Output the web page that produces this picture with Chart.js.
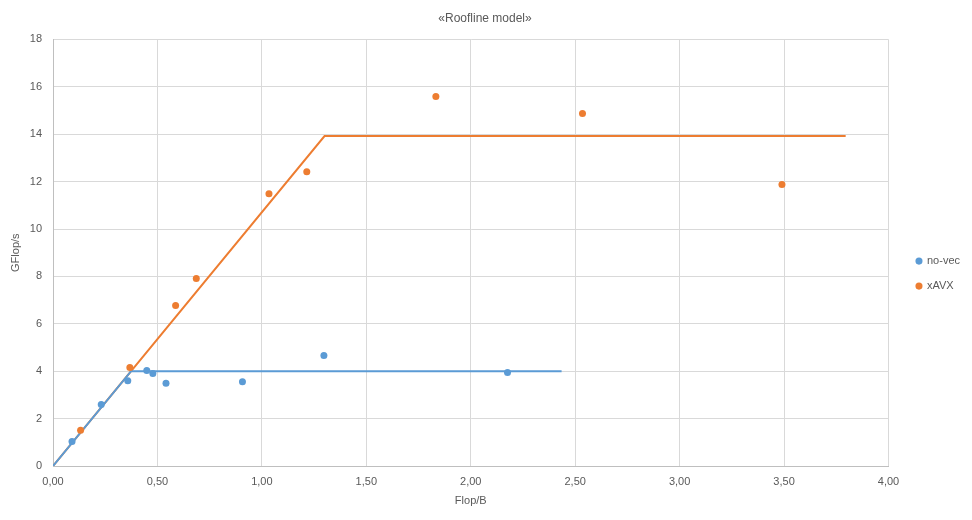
<!DOCTYPE html>
<html>
<head>
<meta charset="utf-8">
<script src="https://cdn.jsdelivr.net/npm/chart.js@4"></script>
<style>
  html, body { margin: 0; padding: 0; background: #fff; }
  #wrap { width: 972px; height: 520px; }
</style>
</head>
<body>
<div id="wrap"><canvas id="chart"></canvas></div>
<script>
// measured points (Flop/B, GFlop/s)
const noVecX = [0.091, 0.231, 0.358, 0.449, 0.478, 0.541, 0.907, 1.297, 2.176];
const noVecY = [1.03, 2.59, 3.60, 4.03, 3.90, 3.49, 3.56, 4.66, 3.95];
const xavxX = [0.132, 0.368, 0.587, 0.686, 1.034, 1.215, 1.833, 2.535, 3.49];
const xavxY = [1.51, 4.16, 6.77, 7.91, 11.49, 12.42, 15.59, 14.87, 11.88];

// roofline segments
const noVecRoofX = [0, 0.374, 2.435];
const noVecRoofY = [0, 4.0, 4.0];
const xavxRoofX = [0, 1.30, 3.795];
const xavxRoofY = [0, 13.92, 13.92];

const BLUE = "#5B9BD5";
const ORANGE = "#ED7D31";
const FONT = "'Liberation Sans', Arial, sans-serif";
const LEGEND_GAP = 14; // extra space between plot and legend

function pts(xs, ys) {
  return xs.map((x, i) => ({ x: x, y: ys[i] }));
}

// widen the legend box on its left side without moving the items
const legendGap = {
  id: "legendGap",
  beforeLayout(chart) {
    const lg = chart.legend;
    if (lg && !lg._gapPatched) {
      const fit = lg.fit;
      lg.fit = function () {
        fit.call(this);
        this.width += LEGEND_GAP;
      };
      lg._gapPatched = true;
    }
  },
  afterLayout(chart) {
    if (chart.legend) chart.legend.left += LEGEND_GAP;
  },
};

const ctx = document.getElementById("chart").getContext("2d");
new Chart(ctx, {
  type: "scatter",
  data: {
    datasets: [
      {
        label: "no-vec",
        data: pts(noVecX, noVecY),
        backgroundColor: BLUE,
        borderColor: BLUE,
        pointRadius: 3.5,
        pointBorderWidth: 0,
        pointStyle: "circle",
      },
      {
        label: "xAVX",
        data: pts(xavxX, xavxY),
        backgroundColor: ORANGE,
        borderColor: ORANGE,
        pointRadius: 3.5,
        pointBorderWidth: 0,
        pointStyle: "circle",
      },
      {
        label: "no-vec roof",
        data: pts(noVecRoofX, noVecRoofY),
        showLine: true,
        borderColor: BLUE,
        borderWidth: 2,
        pointRadius: 0,
        fill: false,
      },
      {
        label: "xAVX roof",
        data: pts(xavxRoofX, xavxRoofY),
        showLine: true,
        borderColor: ORANGE,
        borderWidth: 2,
        pointRadius: 0,
        fill: false,
      },
    ],
  },
  plugins: [legendGap],
  options: {
    responsive: true,
    maintainAspectRatio: false,
    animation: false,
    layout: { padding: { left: 0, right: 2, top: 4, bottom: 0 } },
    plugins: {
      title: {
        display: true,
        text: "«Roofline model»",
        color: "#595959",
        font: { family: FONT, size: 12, weight: "normal" },
        padding: { top: 7, bottom: 14 },
      },
      legend: {
        position: "right",
        title: {
          display: true,
          text: " ",
          font: { size: 11 },
          padding: { top: 10, bottom: 0 },
        },
        labels: {
          filter: (item) => item.datasetIndex < 2,
          usePointStyle: true,
          pointStyle: "circle",
          boxWidth: 5,
          boxHeight: 5,
          padding: 14,
          color: "#595959",
          font: { family: FONT, size: 11 },
        },
      },
      tooltip: { enabled: false },
    },
    scales: {
      x: {
        type: "linear",
        min: 0,
        max: 4,
        afterFit: (scale) => { scale.height = 54; },
        ticks: {
          stepSize: 0.5,
          padding: 9,
          color: "#595959",
          font: { family: FONT, size: 11 },
          callback: (v) => v.toFixed(2).replace(".", ","),
        },
        grid: { color: "#d9d9d9", drawTicks: false },
        border: { color: "#bfbfbf" },
        title: {
          display: true,
          text: "Flop/B",
          color: "#595959",
          font: { family: FONT, size: 11 },
          padding: { top: 4, bottom: 12 },
        },
      },
      y: {
        min: 0,
        max: 18,
        afterFit: (scale) => { scale.width = 53; },
        ticks: {
          stepSize: 2,
          color: "#595959",
          font: { family: FONT, size: 11 },
          padding: 11,
        },
        grid: { color: "#d9d9d9", drawTicks: false },
        border: { color: "#bfbfbf" },
        title: {
          display: true,
          text: "GFlop/s",
          color: "#595959",
          font: { family: FONT, size: 11 },
          padding: { top: 9, bottom: 4 },
        },
      },
    },
  },
});
</script>
</body>
</html>
